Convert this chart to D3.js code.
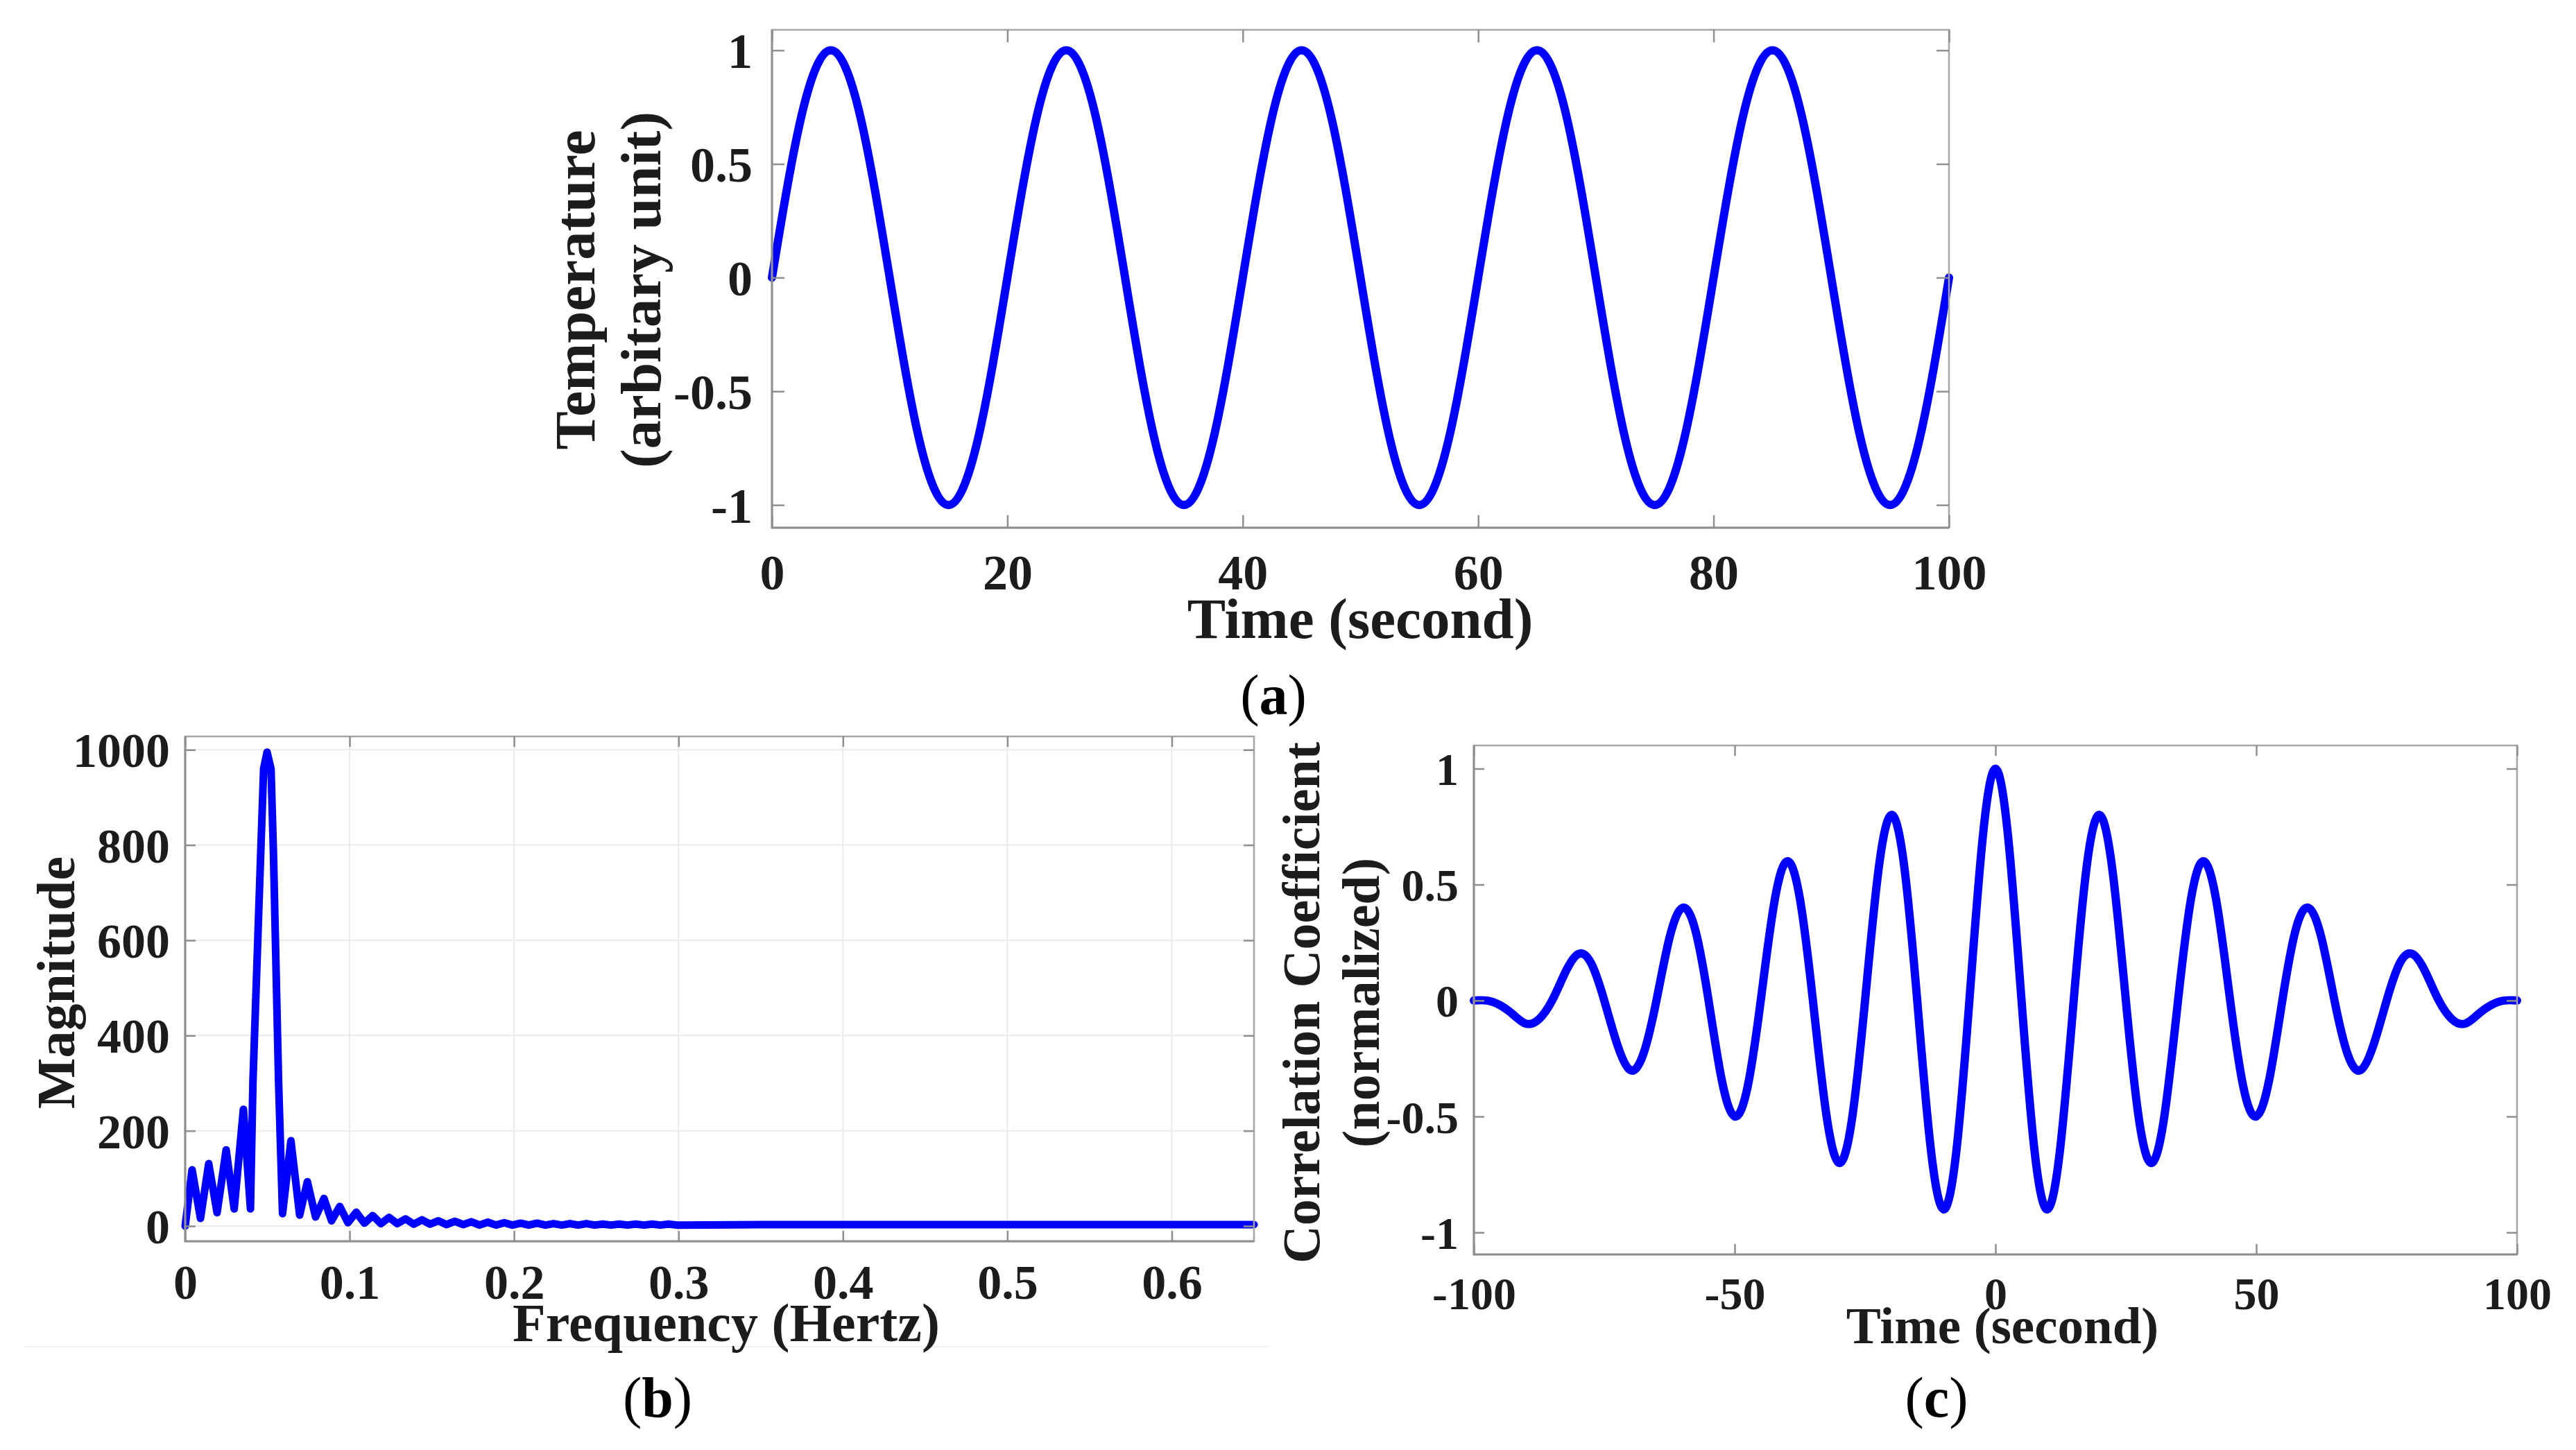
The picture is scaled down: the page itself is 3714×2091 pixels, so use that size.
<!DOCTYPE html>
<html>
<head>
<meta charset="utf-8">
<script src="https://cdn.jsdelivr.net/npm/d3@7"></script>
<style>
  body { margin: 0; background: #fff; }
  svg { display: block; }
</style>
</head>
<body>
<svg id="fig" width="3714" height="2091"></svg>
<script>
// ---------- data ----------

// (a) temperature signal, sampled every 2.5 s
const aTime = [0, 2.5, 5, 7.5, 10, 12.5, 15, 17.5, 20, 22.5, 25, 27.5, 30, 32.5, 35, 37.5, 40, 42.5, 45, 47.5,
  50, 52.5, 55, 57.5, 60, 62.5, 65, 67.5, 70, 72.5, 75, 77.5, 80, 82.5, 85, 87.5, 90, 92.5, 95, 97.5, 100];
const aTemp = [0, 0.71, 1, 0.71, 0, -0.71, -1, -0.71, 0, 0.71, 1, 0.71, 0, -0.71, -1, -0.71, 0, 0.71, 1, 0.71,
  0, -0.71, -1, -0.71, 0, 0.71, 1, 0.71, 0, -0.71, -1, -0.71, 0, 0.71, 1, 0.71, 0, -0.71, -1, -0.71, 0];

// (b) magnitude spectrum: lobe peaks and dips
const bFreq = [0, 0.0042, 0.0093, 0.0143, 0.0194, 0.0249, 0.0298, 0.0354, 0.0397, 0.0412,
  0.0459, 0.0477, 0.0498, 0.0522, 0.0537, 0.0568, 0.0592, 0.0643, 0.0696, 0.0743,
  0.0793, 0.0844, 0.089, 0.094, 0.099, 0.104, 0.109, 0.114, 0.119, 0.124,
  0.129, 0.134, 0.139, 0.144, 0.149, 0.154, 0.159, 0.164, 0.169, 0.174,
  0.179, 0.184, 0.189, 0.194, 0.199, 0.204, 0.209, 0.214, 0.219, 0.224,
  0.229, 0.234, 0.239, 0.244, 0.249, 0.254, 0.259, 0.264, 0.269, 0.274,
  0.279, 0.284, 0.289, 0.294, 0.299, 0.35, 0.4, 0.45, 0.5, 0.55,
  0.6, 0.65];
const bMag = [0, 118, 16, 131, 28, 160, 36, 245, 36, 302,
  780, 960, 995, 960, 780, 302, 26, 179, 23, 93,
  19, 58, 11, 41, 7, 29, 6, 22, 5, 18,
  5, 15, 4, 13, 4, 11, 3, 10, 3, 9,
  2, 8, 2, 7, 2, 6, 2, 6, 2, 5,
  2, 5, 2, 5, 2, 4, 2, 4, 2, 4,
  2, 4, 2, 4, 2, 3, 3, 3, 3, 3,
  3, 3];

// (c) normalized autocorrelation, every 2.5 s of lag
const cLag = [-100, -97.5, -95, -92.5, -90, -87.5, -85, -82.5, -80, -77.5, -75, -72.5, -70, -67.5, -65, -62.5,
  -60, -57.5, -55, -52.5, -50, -47.5, -45, -42.5, -40, -37.5, -35, -32.5, -30, -27.5, -25, -22.5,
  -20, -17.5, -15, -12.5, -10, -7.5, -5, -2.5, 0, 2.5, 5, 7.5, 10, 12.5, 15, 17.5,
  20, 22.5, 25, 27.5, 30, 32.5, 35, 37.5, 40, 42.5, 45, 47.5, 50, 52.5, 55, 57.5,
  60, 62.5, 65, 67.5, 70, 72.5, 75, 77.5, 80, 82.5, 85, 87.5, 90, 92.5, 95, 97.5, 100];
const cCorr = [0, 0, -0.02, -0.06, -0.1, -0.08, 0, 0.12, 0.2, 0.16, 0, -0.19, -0.3, -0.23, 0, 0.27,
  0.4, 0.3, 0, -0.34, -0.5, -0.37, 0, 0.41, 0.6, 0.44, 0, -0.48, -0.7, -0.51, 0, 0.55,
  0.8, 0.58, 0, -0.62, -0.9, -0.65, 0, 0.69, 1, 0.69, 0, -0.65, -0.9, -0.62, 0, 0.58,
  0.8, 0.55, 0, -0.51, -0.7, -0.48, 0, 0.44, 0.6, 0.41, 0, -0.37, -0.5, -0.34, 0, 0.3,
  0.4, 0.27, 0, -0.23, -0.3, -0.19, 0, 0.16, 0.2, 0.12, 0, -0.08, -0.1, -0.06, -0.02, 0, 0];

// tick values
const aXTicks = [0, 20, 40, 60, 80, 100];
const aYTicks = [-1, -0.5, 0, 0.5, 1];
const bXTicks = [0, 0.1, 0.2, 0.3, 0.4, 0.5, 0.6];
const bYTicks = [0, 200, 400, 600, 800, 1000];
const cXTicks = [-100, -50, 0, 50, 100];
const cYTicks = [-1, -0.5, 0, 0.5, 1];

// ---------- drawing ----------
const FONT = "'Liberation Serif', 'Times New Roman', serif";
const INK = "#1c1c1c";
const AXIS = "#8f8f8f";
const svg = d3.select("#fig");
svg.append("rect").attr("width", 3714).attr("height", 2091).attr("fill", "#fff");

function label(x, y, str, size, rotate) {
  return svg.append("text")
    .attr("transform", `translate(${x},${y})` + (rotate ? " rotate(-90)" : ""))
    .attr("text-anchor", "middle")
    .attr("font-family", FONT).attr("font-weight", "bold")
    .attr("font-size", size).attr("fill", INK)
    .text(str);
}

function caption(x, y, letter) {
  const t = svg.append("text")
    .attr("x", x).attr("y", y).attr("text-anchor", "middle")
    .attr("font-family", FONT).attr("font-size", 82).attr("fill", "#000");
  t.append("tspan").text("(");
  t.append("tspan").attr("font-weight", "bold").text(letter);
  t.append("tspan").text(")");
}

function panel(o) {
  const x = d3.scaleLinear().domain(o.xDomain).range([o.left, o.right]);
  const y = d3.scaleLinear().domain(o.yDomain).range([o.bottom, o.top]);
  const g = svg.append("g");

  if (o.grid) {
    g.selectAll(".gx").data(o.xTicks).enter().append("line")
      .attr("x1", d => x(d)).attr("x2", d => x(d))
      .attr("y1", o.top).attr("y2", o.bottom)
      .attr("stroke", "#ebebeb").attr("stroke-width", 2);
    g.selectAll(".gy").data(o.yTicks).enter().append("line")
      .attr("x1", o.left).attr("x2", o.right)
      .attr("y1", d => y(d)).attr("y2", d => y(d))
      .attr("stroke", "#ebebeb").attr("stroke-width", 2);
  }

  const pts = o.xs.map((v, i) => [v, o.ys[i]]);
  g.append("path").datum(pts)
    .attr("d", d3.line().x(d => x(d[0])).y(d => y(d[1])).curve(o.curve))
    .attr("fill", "none").attr("stroke", "#0000ff")
    .attr("stroke-width", o.lineWidth)
    .attr("stroke-linejoin", "round").attr("stroke-linecap", "round");

  // box
  g.append("rect")
    .attr("x", o.left).attr("y", o.top)
    .attr("width", o.right - o.left).attr("height", o.bottom - o.top)
    .attr("fill", "none").attr("stroke", "#a5a5a5").attr("stroke-width", 2.5);
  g.append("path")
    .attr("d", `M${o.left},${o.top}V${o.bottom}H${o.right}`)
    .attr("fill", "none").attr("stroke", AXIS).attr("stroke-width", 3);

  const fmt = d => String(d);
  const styleAxis = (sel) => {
    sel.select(".domain").remove();
    sel.selectAll(".tick line").attr("stroke", AXIS).attr("stroke-width", 2.5);
    sel.selectAll(".tick text")
      .attr("font-family", FONT).attr("font-weight", "bold")
      .attr("font-size", o.tickFont).attr("fill", INK);
  };

  const gb = g.append("g").attr("transform", `translate(0,${o.bottom})`)
    .call(d3.axisBottom(x).tickValues(o.xTicks).tickSize(-o.tick).tickFormat(fmt));
  styleAxis(gb);
  gb.selectAll(".tick text").attr("y", o.xTickBase - o.bottom).attr("dy", null);

  const gt = g.append("g").attr("transform", `translate(0,${o.top})`)
    .call(d3.axisTop(x).tickValues(o.xTicks).tickSize(-o.tick).tickFormat(""));
  styleAxis(gt);

  const gl = g.append("g").attr("transform", `translate(${o.left},0)`)
    .call(d3.axisLeft(y).tickValues(o.yTicks).tickSize(-o.tick).tickFormat(fmt));
  styleAxis(gl);
  gl.selectAll(".tick text").attr("x", o.yTickRight - o.left).attr("dy", "0.35em")
    .attr("text-anchor", "end");

  const gr = g.append("g").attr("transform", `translate(${o.right},0)`)
    .call(d3.axisRight(y).tickValues(o.yTicks).tickSize(-o.tick).tickFormat(""));
  styleAxis(gr);
}

// (a)
panel({
  left: 1113, right: 2810, top: 43, bottom: 761,
  xDomain: [0, 100], yDomain: [-1.1, 1.09],
  xTicks: aXTicks, yTicks: aYTicks,
  xs: aTime, ys: aTemp, curve: d3.curveNatural, lineWidth: 12,
  tick: 18, tickFont: 72, xTickBase: 850, yTickRight: 1085, grid: false
});
label(1961, 920, "Time (second)", 83, false);
label(857, 418, "Temperature", 83, true);
label(952, 418, "(arbitary unit)", 83, true);
caption(1836, 1030, "a");

// (b)
panel({
  left: 267, right: 1808, top: 1062, bottom: 1790,
  xDomain: [0, 0.65], yDomain: [-32, 1028],
  xTicks: bXTicks, yTicks: bYTicks,
  xs: bFreq, ys: bMag, curve: d3.curveLinear, lineWidth: 11,
  tick: 15, tickFont: 70, xTickBase: 1873, yTickRight: 245, grid: true
});
svg.append("line").attr("x1", 36).attr("x2", 1830).attr("y1", 1942).attr("y2", 1942)
  .attr("stroke", "#f2f2f2").attr("stroke-width", 2);
label(1047, 1934, "Frequency (Hertz)", 78, false);
label(107, 1417, "Magnitude", 78, true);
caption(948, 2043, "b");

// (c)
panel({
  left: 2125, right: 3629, top: 1075, bottom: 1809,
  xDomain: [-100, 100], yDomain: [-1.095, 1.1],
  xTicks: cXTicks, yTicks: cYTicks,
  xs: cLag, ys: cCorr, curve: d3.curveNatural, lineWidth: 12,
  tick: 15, tickFont: 66, xTickBase: 1888, yTickRight: 2103, grid: false
});
label(2887, 1937, "Time (second)", 75, false);
label(1902, 1446, "Correlation Coefficient", 76, true);
label(1988, 1446, "(normalized)", 76, true);
caption(2792, 2043, "c");
</script>
</body>
</html>
